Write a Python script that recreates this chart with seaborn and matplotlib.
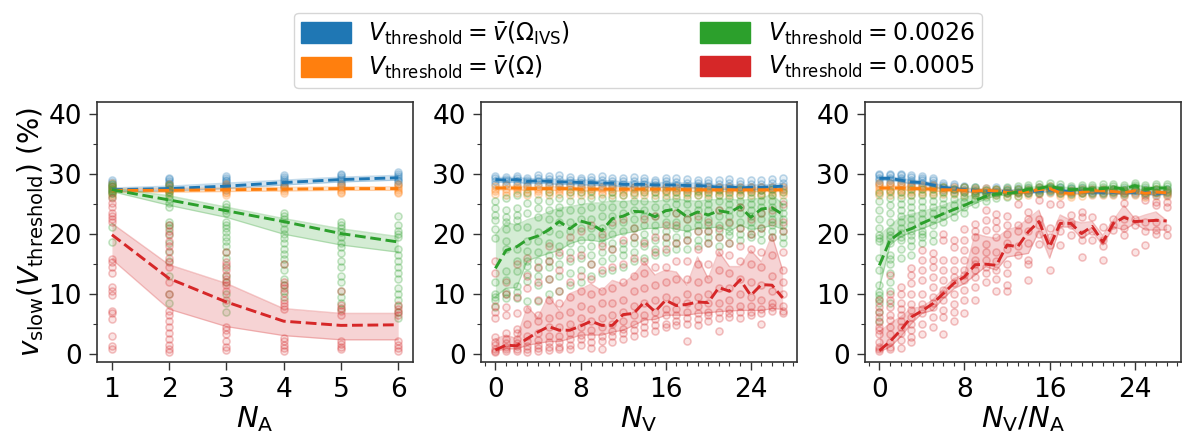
import numpy as np
import pandas as pd
import matplotlib
matplotlib.use("Agg")
import matplotlib.pyplot as plt
from matplotlib.colors import to_rgba
from matplotlib.patches import Patch
from matplotlib.ticker import MultipleLocator
import seaborn as sns

# ---------------------------------------------------------------- data
COLORS = {"ivs": "#1f77b4", "omega": "#ff7f0e", "c26": "#2ca02c", "c05": "#d62728"}
SERIES = ["ivs", "omega", "c26", "c05"]
LABELS = [
    r"$V_{\mathrm{threshold}} = \bar{v}(\Omega_{\mathrm{IVS}})$",
    r"$V_{\mathrm{threshold}} = \bar{v}(\Omega)$",
    r"$V_{\mathrm{threshold}} = 0.0026$",
    r"$V_{\mathrm{threshold}} = 0.0005$",
]

# ---- panel A: number of agents
na_x = [1, 2, 3, 4, 5, 6]
na_ivs_med = [27.4, 27.6, 28.0, 28.6, 29.1, 29.4]
na_ivs_lo = [27.1, 27.2, 27.6, 28.2, 28.7, 29.0]
na_ivs_hi = [27.7, 28.0, 28.5, 29.0, 29.5, 29.8]
na_omega_med = [27.3, 27.3, 27.4, 27.5, 27.6, 27.6]
na_omega_lo = [27.0, 27.0, 27.1, 27.2, 27.3, 27.3]
na_omega_hi = [27.6, 27.6, 27.7, 27.8, 27.9, 27.9]
na_c26_med = [27.4, 25.7, 23.9, 22.1, 20.1, 18.7]
na_c26_lo = [27.1, 24.8, 22.8, 20.0, 18.2, 17.0]
na_c26_hi = [27.7, 26.4, 24.5, 22.6, 20.9, 19.6]
na_c05_med = [19.9, 12.6, 8.7, 5.5, 4.8, 4.9]
na_c05_lo = [15.8, 7.5, 4.6, 3.1, 2.4, 2.4]
na_c05_hi = [21.8, 14.9, 11.8, 7.6, 6.8, 6.8]

na_ivs_pts = [
    [26.8, 27.2, 27.5, 27.8, 28.1, 28.4, 28.7, 29.0],
    [27.2, 27.6, 28.0, 28.3, 28.6, 28.9, 29.2, 29.4],
    [27.4, 27.8, 28.2, 28.5, 28.8, 29.1, 29.4, 29.7],
    [27.8, 28.2, 28.6, 28.9, 29.2, 29.5, 29.8],
    [28.2, 28.6, 28.9, 29.2, 29.5, 29.8, 30.1],
    [28.4, 28.8, 29.1, 29.4, 29.7, 30.0, 30.3],
]
na_omega_pts = [
    [26.6, 26.9, 27.2, 27.5, 27.8, 28.1, 28.5],
    [26.7, 27.0, 27.3, 27.6, 27.9, 28.3],
    [26.5, 26.8, 27.1, 27.4, 27.7, 28.0, 28.3],
    [26.9, 27.2, 27.5, 27.8, 28.1],
    [26.8, 27.1, 27.4, 27.7, 28.0, 28.4],
    [26.8, 27.1, 27.4, 27.7, 28.0, 28.4],
]
na_c26_pts = [
    [18.7, 21.2, 26.2, 26.8, 27.2, 27.6, 28.0, 28.3],
    [8.5, 10.0, 13.0, 15.5, 17.0, 18.5, 20.0, 21.0, 21.6, 22.0, 24.5, 25.2, 25.8, 26.4, 27.0, 27.6, 28.2],
    [7.0, 8.5, 10.0, 12.0, 13.0, 14.5, 16.0, 17.0, 18.0, 18.8, 19.5, 20.3, 21.0, 21.5, 22.0, 23.5, 24.0, 24.5, 25.0],
    [9.5, 10.5, 11.5, 12.5, 14.0, 15.0, 15.8, 16.7, 17.5, 18.5, 19.3, 20.0, 20.8, 21.8, 22.5, 23.0, 23.5],
    [7.5, 8.5, 9.5, 10.5, 12.0, 13.0, 14.5, 15.5, 16.8, 17.8, 18.5, 19.5, 20.3, 21.0, 21.5, 22.0],
    [6.0, 7.0, 8.0, 9.0, 10.0, 11.0, 12.5, 13.5, 14.5, 15.5, 16.5, 17.5, 19.5, 20.0, 20.5, 21.5, 23.0],
]
na_c05_pts = [
    [0.8, 1.3, 3.0, 5.8, 6.8, 7.2, 9.8, 10.5, 11.2, 13.5, 14.5, 15.3, 15.8, 22.0, 22.5, 23.0, 23.5, 24.5, 25.2, 26.0],
    [0.4, 0.8, 1.5, 2.5, 3.5, 4.5, 5.5, 6.5, 7.2, 10.0, 12.0, 14.5, 15.3, 16.0, 17.2, 18.0, 18.8, 19.8, 20.5, 21.6],
    [0.7, 1.2, 2.2, 3.3, 4.0, 4.5, 9.0, 10.5, 11.5, 12.0, 12.5, 13.2, 14.0, 14.8, 15.3, 17.0],
    [0.5, 1.0, 1.6, 2.2, 2.7, 7.5, 8.0, 8.5, 9.0, 10.2, 11.0, 11.5, 12.0, 15.0],
    [0.8, 1.2, 1.7, 2.2, 6.6, 7.2, 7.7, 8.2, 10.5],
    [0.6, 1.0, 1.6, 2.2, 6.5, 7.0, 7.6, 8.2],
]

# ---- panel B: number of vehicles
nv_x = list(range(28))
nv_ivs_med = [29.1, 29.0, 29.1, 28.8, 28.9, 28.8, 28.7, 28.7, 28.6, 28.6, 28.5, 28.5, 28.3, 28.3,
              28.3, 28.2, 28.2, 28.2, 28.1, 28.1, 28.0, 27.8, 27.9, 27.7, 27.8, 27.8, 27.9, 28.0]
nv_ivs_lo = [28.7, 28.6, 28.7, 28.4, 28.5, 28.4, 28.3, 28.3, 28.2, 28.2, 28.1, 28.1, 27.9, 27.9,
             27.9, 27.8, 27.8, 27.8, 27.7, 27.7, 27.6, 27.4, 27.5, 27.3, 27.4, 27.4, 27.5, 27.6]
nv_ivs_hi = [29.5, 29.4, 29.5, 29.2, 29.3, 29.2, 29.1, 29.1, 29.0, 29.0, 28.9, 28.9, 28.7, 28.7,
             28.7, 28.6, 28.6, 28.6, 28.5, 28.5, 28.4, 28.2, 28.3, 28.1, 28.2, 28.2, 28.3, 28.4]
nv_omega_med = [27.7, 27.7, 27.7, 27.6, 27.6, 27.6, 27.6, 27.6, 27.5, 27.5, 27.5, 27.5, 27.5, 27.5,
                27.5, 27.5, 27.5, 27.5, 27.4, 27.4, 27.4, 27.4, 27.4, 27.4, 27.4, 27.4, 27.4, 27.4]
nv_omega_lo = [27.4, 27.4, 27.4, 27.3, 27.3, 27.3, 27.3, 27.3, 27.2, 27.2, 27.2, 27.2, 27.2, 27.2,
               27.2, 27.2, 27.2, 27.2, 27.1, 27.1, 27.1, 27.1, 27.1, 27.1, 27.1, 27.1, 27.1, 27.1]
nv_omega_hi = [28.0, 28.0, 28.0, 27.9, 27.9, 27.9, 27.9, 27.9, 27.8, 27.8, 27.8, 27.8, 27.8, 27.8,
               27.8, 27.8, 27.8, 27.8, 27.7, 27.7, 27.7, 27.7, 27.7, 27.7, 27.7, 27.7, 27.7, 27.7]
nv_c26_med = [14.3, 17.3, 17.9, 19.1, 19.7, 20.7, 22.1, 20.9, 22.2, 21.7, 20.6, 22.6, 23.0, 23.8,
              23.7, 22.9, 23.9, 24.2, 22.9, 23.7, 23.2, 23.9, 23.6, 24.6, 22.8, 24.2, 24.4, 23.3]
nv_c26_lo = [9.6, 11.0, 11.1, 15.6, 16.2, 16.8, 17.3, 18.4, 19.0, 19.0, 18.7, 19.6, 20.1, 20.4,
             20.9, 21.0, 21.2, 20.8, 20.5, 21.0, 21.0, 21.2, 20.5, 21.5, 20.8, 21.0, 21.5, 20.8]
nv_c26_hi = [19.8, 22.0, 21.5, 22.4, 22.9, 23.7, 24.3, 24.6, 24.9, 25.2, 25.2, 25.6, 25.4, 25.6,
             25.5, 25.4, 25.7, 25.9, 25.6, 25.5, 25.7, 25.8, 25.9, 25.6, 25.8, 26.0, 26.6, 25.0]
nv_c05_med = [0.7, 1.5, 1.4, 2.6, 3.7, 4.6, 4.0, 4.0, 4.7, 5.5, 4.8, 4.8, 6.6, 6.8,
              8.7, 7.1, 9.0, 8.1, 8.3, 8.7, 8.6, 11.1, 10.5, 12.4, 9.8, 11.6, 11.5, 9.4]
nv_c05_lo = [0.5, 0.9, 0.9, 1.5, 1.8, 2.1, 2.1, 2.6, 3.2, 3.2, 3.2, 3.7, 4.0, 4.8,
             5.7, 5.8, 6.5, 6.5, 6.5, 6.8, 6.9, 7.1, 7.2, 7.3, 7.3, 7.3, 7.6, 7.5]
nv_c05_hi = [2.5, 3.2, 2.6, 7.9, 6.1, 9.7, 7.3, 10.1, 10.8, 11.7, 10.6, 12.3, 11.7, 13.2,
             15.4, 13.2, 14.0, 13.7, 11.5, 16.2, 12.6, 17.1, 14.6, 14.6, 17.3, 15.4, 19.8, 14.0]

nv_ivs_pts = [
    [28.4, 28.9, 29.3, 29.7], [28.3, 28.8, 29.2, 29.5], [28.4, 28.9, 29.3, 29.7], [28.2, 28.7, 29.0, 29.4],
    [28.3, 28.9, 29.4, 29.8], [28.2, 28.7, 29.2, 29.7], [28.1, 28.6, 29.2, 29.9], [28.2, 28.6, 29.1, 29.5],
    [28.0, 28.5, 29.0, 29.4], [28.1, 28.6, 29.1, 29.6], [28.0, 28.5, 29.1, 29.7], [27.9, 28.4, 28.9, 29.4],
    [27.8, 28.3, 28.8, 29.3], [27.9, 28.4, 28.9, 29.5], [27.8, 28.3, 28.8, 29.3], [27.7, 28.2, 28.7, 29.1],
    [27.8, 28.3, 28.8, 29.3], [27.7, 28.2, 28.7, 29.3], [27.6, 28.1, 28.6, 29.2], [27.7, 28.1, 28.6, 29.0],
    [27.6, 28.0, 28.5, 29.1], [27.5, 27.9, 28.4, 29.0], [27.5, 28.0, 28.5, 29.2], [27.3, 27.8, 28.3, 28.8],
    [27.5, 27.9, 28.4, 29.1], [27.4, 27.9, 28.4, 29.0], [27.5, 27.9, 28.5, 29.2], [27.5, 28.0, 28.6, 29.3],
]
nv_omega_pts = [
    [26.7, 27.2, 27.6, 28.1], [26.6, 27.1, 27.6, 28.2], [26.8, 27.3, 27.7, 28.1], [26.6, 27.1, 27.6, 28.0],
    [26.7, 27.2, 27.6, 28.1], [26.5, 27.0, 27.6, 28.2], [26.7, 27.2, 27.6, 28.0], [26.6, 27.1, 27.5, 28.0],
    [26.6, 27.1, 27.5, 27.9], [26.5, 27.0, 27.5, 28.0], [26.7, 27.1, 27.5, 27.9], [26.6, 27.0, 27.5, 28.0],
    [26.5, 27.0, 27.4, 27.9], [26.6, 27.1, 27.5, 27.9], [26.5, 27.0, 27.4, 27.8], [26.6, 27.0, 27.5, 27.9],
    [26.5, 27.0, 27.4, 27.9], [26.6, 27.0, 27.4, 27.8], [26.5, 26.9, 27.4, 27.8], [26.6, 27.0, 27.4, 27.9],
    [26.5, 26.9, 27.3, 27.8], [26.6, 27.0, 27.4, 27.8], [26.5, 26.9, 27.3, 27.8], [26.5, 27.0, 27.4, 27.8],
    [26.6, 27.0, 27.4, 27.9], [26.5, 26.9, 27.3, 27.8], [26.6, 27.0, 27.4, 27.8], [26.5, 27.0, 27.4, 27.9],
]
nv_c26_pts = [
    [7.9, 9.0, 9.6, 10.0, 12.0, 19.4, 20.9, 22.3, 23.2, 24.3, 25.5],
    [9.4, 10.0, 10.3, 12.3, 13.9, 17.5, 18.9, 20.9, 22.1, 22.9, 24.0, 26.0],
    [9.4, 10.3, 11.4, 13.9, 15.5, 17.5, 21.2, 22.3, 23.2, 24.3, 26.5],
    [8.9, 12.2, 13.3, 14.7, 15.5, 17.2, 18.9, 21.2, 23.5, 25.2, 26.8],
    [8.9, 11.6, 13.0, 14.4, 15.5, 17.0, 18.9, 20.4, 22.9, 24.3, 25.7],
    [10.0, 12.5, 14.5, 15.5, 16.5, 18.5, 20.5, 22.5, 24.0, 25.5, 27.0],
    [10.5, 13.0, 15.0, 16.5, 18.0, 20.0, 22.0, 23.5, 24.5, 26.0],
    [11.5, 13.5, 15.5, 17.0, 18.5, 20.5, 22.0, 24.0, 25.5, 27.0],
    [12.0, 14.0, 16.0, 17.5, 19.0, 21.0, 22.5, 24.0, 25.5, 27.0],
    [13.0, 15.0, 16.5, 18.0, 19.5, 21.0, 22.5, 24.5, 26.0, 27.2],
    [13.5, 15.5, 17.0, 18.5, 19.5, 21.0, 23.0, 24.5, 26.0],
    [14.0, 16.0, 17.5, 18.5, 20.0, 21.5, 23.0, 24.5, 26.0, 27.0],
    [14.5, 16.5, 17.5, 18.5, 20.5, 22.0, 23.5, 25.0, 26.5],
    [15.5, 17.0, 18.5, 19.5, 21.0, 22.5, 24.0, 25.5, 26.8],
    [16.0, 18.0, 18.8, 20.0, 21.5, 23.0, 24.0, 25.5, 27.0],
    [16.5, 17.5, 19.0, 20.5, 21.5, 23.0, 24.5, 26.0, 27.0],
    [17.0, 18.5, 19.5, 20.5, 22.0, 23.5, 24.5, 26.0, 27.2],
    [17.5, 18.5, 19.5, 21.0, 22.0, 23.5, 25.0, 26.0, 27.0],
    [17.5, 19.0, 20.0, 21.0, 22.5, 23.5, 25.0, 26.0, 27.0],
    [18.0, 19.0, 20.5, 21.5, 22.5, 24.0, 25.0, 26.5, 27.2],
    [18.5, 19.5, 20.5, 21.5, 22.5, 24.0, 25.0, 26.0, 27.0],
    [18.0, 19.5, 20.5, 21.5, 23.0, 24.0, 25.5, 26.5, 27.3],
    [18.5, 19.8, 20.5, 21.8, 23.0, 24.0, 25.0, 26.0, 27.0],
    [19.0, 20.0, 21.0, 22.0, 23.5, 24.5, 25.5, 26.5, 27.5],
    [19.5, 20.0, 21.0, 22.0, 23.0, 24.0, 25.0, 26.0, 27.0],
    [19.0, 20.2, 21.0, 22.5, 23.5, 24.5, 25.5, 26.5, 27.3],
    [19.5, 20.5, 21.5, 22.5, 23.5, 24.5, 25.5, 26.5, 27.5],
    [18.5, 19.5, 20.5, 21.5, 22.5, 23.5, 24.5, 25.5, 27.0],
]
nv_c05_pts = [
    [0.4, 0.6, 0.9, 1.5, 2.0, 2.8, 6.0, 7.0, 8.0, 13.5, 15.5],
    [0.6, 0.9, 1.2, 1.9, 2.5, 3.5, 6.5, 7.8, 10.0, 12.0],
    [0.6, 0.9, 1.3, 1.8, 2.6, 3.5, 4.2, 6.8, 9.5, 15.0],
    [0.4, 0.9, 1.4, 2.2, 3.0, 5.0, 7.5, 11.0, 13.0, 16.0],
    [0.6, 1.0, 1.5, 2.3, 3.5, 5.5, 6.5, 9.0, 12.0, 14.5],
    [0.7, 1.2, 2.0, 3.0, 4.5, 6.0, 9.0, 12.5, 15.5, 18.0],
    [0.8, 1.2, 2.0, 3.0, 4.5, 6.5, 8.5, 10.5, 14.0, 17.0],
    [0.9, 1.5, 2.5, 3.5, 5.0, 7.0, 9.5, 12.0, 16.0, 19.5],
    [1.5, 2.5, 3.2, 4.5, 6.0, 8.0, 10.5, 13.0, 16.5, 20.5],
    [1.0, 2.0, 3.0, 4.0, 5.5, 7.5, 10.0, 12.5, 15.0, 21.5],
    [0.8, 2.2, 3.0, 4.5, 6.0, 8.5, 10.5, 14.0, 18.0, 20.0],
    [2.0, 3.0, 3.8, 5.0, 6.5, 8.5, 11.0, 14.5, 17.5, 22.0],
    [2.5, 3.5, 4.2, 5.5, 7.0, 9.0, 12.0, 15.0, 19.0, 22.5],
    [3.0, 4.0, 5.0, 6.5, 8.0, 10.5, 13.0, 16.0, 19.5, 21.0],
    [3.5, 4.5, 5.5, 6.5, 8.5, 11.0, 13.5, 15.5, 18.5, 22.5],
    [3.8, 4.8, 5.8, 7.0, 9.0, 11.5, 14.5, 17.0, 19.5, 23.0],
    [4.5, 5.0, 6.5, 7.5, 9.5, 12.0, 14.5, 17.5, 19.5, 21.5],
    [4.8, 5.5, 6.5, 7.5, 9.0, 12.5, 15.5, 18.5, 21.5, 23.5],
    [2.2, 5.0, 6.0, 7.0, 8.5, 10.0, 12.5, 15.5, 19.0, 22.5],
    [4.8, 5.8, 6.8, 8.0, 9.5, 12.0, 15.0, 17.5, 20.5, 23.0],
    [5.5, 6.5, 7.0, 8.5, 10.0, 12.5, 15.0, 18.5, 20.5, 22.0],
    [3.8, 6.0, 7.0, 8.5, 11.0, 14.0, 17.0, 19.5, 21.0, 24.0],
    [6.2, 6.8, 7.5, 9.0, 11.0, 13.5, 16.5, 18.5, 22.0],
    [6.0, 7.0, 8.0, 10.0, 12.5, 15.5, 18.0, 21.0, 24.5],
    [6.5, 7.0, 8.0, 9.5, 12.0, 15.0, 17.5, 20.0, 22.5],
    [5.0, 6.8, 7.5, 9.0, 11.5, 14.5, 17.0, 21.0, 23.5],
    [7.2, 7.8, 8.5, 10.5, 13.0, 16.5, 19.5, 22.0, 24.0],
    [6.8, 7.2, 8.0, 10.0, 12.0, 14.0, 17.0, 20.5, 22.0, 25.0],
]

# ---- panel C: vehicles per agent
nr_x = list(range(28))
nr_ivs_med = [29.3, 29.3, 29.0, 28.7, 28.6, 28.2, 27.8, 27.6, 27.4, 27.3, 27.1, 27.2, 27.1, 27.1,
              27.1, 27.2, 27.4, 27.2, 27.1, 27.1, 27.0, 27.0, 27.0, 26.9, 27.0, 26.9, 26.8, 26.9]
nr_ivs_lo = [29.0, 29.0, 28.7, 28.4, 28.3, 27.9, 27.5, 27.3, 27.1, 27.0, 26.8, 26.9, 26.8, 26.8,
             26.8, 26.9, 27.1, 26.9, 26.8, 26.8, 26.7, 26.7, 26.7, 26.6, 26.7, 26.6, 26.5, 26.6]
nr_ivs_hi = [29.6, 29.6, 29.3, 29.0, 28.9, 28.5, 28.1, 27.9, 27.7, 27.6, 27.4, 27.5, 27.4, 27.4,
             27.4, 27.5, 27.7, 27.5, 27.4, 27.4, 27.3, 27.3, 27.3, 27.2, 27.3, 27.2, 27.1, 27.2]
nr_omega_med = [27.7, 27.7, 27.7, 27.6, 27.6, 27.5, 27.4, 27.4, 27.3, 27.2, 27.3, 27.2, 27.0, 27.0,
                27.1, 27.4, 27.6, 26.9, 26.8, 27.0, 27.2, 27.2, 27.1, 26.9, 27.2, 26.8, 27.0, 26.9]
nr_omega_lo = [27.4, 27.4, 27.4, 27.3, 27.3, 27.2, 27.1, 27.1, 27.0, 26.9, 27.0, 26.9, 26.7, 26.7,
               26.8, 27.1, 27.3, 26.6, 26.5, 26.7, 26.9, 26.9, 26.8, 26.6, 26.9, 26.5, 26.7, 26.6]
nr_omega_hi = [28.0, 28.0, 28.0, 27.9, 27.9, 27.8, 27.7, 27.7, 27.6, 27.5, 27.6, 27.5, 27.3, 27.3,
               27.4, 27.7, 27.9, 27.2, 27.1, 27.3, 27.5, 27.5, 27.4, 27.2, 27.5, 27.1, 27.3, 27.2]
nr_c26_med = [14.8, 19.0, 20.3, 20.9, 21.8, 22.6, 23.4, 24.1, 24.8, 25.6, 26.3, 26.7, 26.8, 27.0,
              27.5, 27.6, 28.0, 27.6, 27.4, 27.5, 27.5, 27.6, 27.8, 27.5, 28.1, 27.5, 27.7, 27.7]
nr_c26_lo = [11.0, 18.2, 19.6, 20.3, 20.9, 21.6, 22.3, 23.3, 24.3, 25.1, 25.9, 26.4, 26.5, 26.7,
             27.2, 27.3, 27.6, 27.3, 27.1, 27.2, 27.2, 27.3, 27.5, 27.2, 27.7, 27.2, 27.4, 27.4]
nr_c26_hi = [19.8, 21.3, 22.9, 23.3, 23.7, 24.3, 24.8, 25.5, 26.1, 26.6, 27.1, 27.1, 27.2, 27.3,
             27.8, 27.9, 28.3, 27.9, 27.7, 27.8, 27.8, 27.9, 28.1, 27.8, 28.4, 27.8, 28.0, 28.0]
nr_c05_med = [0.6, 2.1, 4.0, 6.2, 7.2, 8.4, 10.1, 11.8, 12.9, 14.9, 15.0, 14.8, 18.2, 17.9,
              20.4, 22.1, 17.9, 21.8, 21.8, 20.1, 21.3, 18.7, 21.8, 22.8, 22.1, 22.2, 22.3, 22.2]
nr_c05_lo = [0.4, 1.2, 2.9, 5.1, 6.8, 7.3, 9.3, 10.9, 11.8, 13.2, 14.6, 14.0, 16.2, 16.5,
             16.8, 20.5, 16.0, 21.2, 21.2, 19.3, 20.4, 18.2, 21.2, 20.7, 21.8, 20.7, 20.7, 20.7]
nr_c05_hi = [3.7, 5.1, 6.2, 7.6, 7.9, 9.0, 10.9, 12.6, 13.2, 20.1, 19.6, 19.3, 20.7, 21.2,
             22.6, 24.0, 19.0, 23.2, 22.3, 21.9, 22.1, 19.8, 22.3, 24.8, 22.6, 23.2, 23.7, 22.3]

nr_ivs_pts = [
    [28.6, 29.0, 29.4, 29.8, 30.1], [28.6, 29.0, 29.4, 29.8, 30.1], [28.5, 29.0, 29.4, 29.8, 30.0],
    [28.2, 28.7, 29.1, 29.5, 29.8], [28.0, 28.5, 29.0, 29.4, 29.7], [27.8, 28.2, 28.6, 29.0, 29.3],
    [27.4, 27.8, 28.2, 28.6], [27.3, 27.6, 28.0, 28.4], [27.1, 27.4, 27.8, 28.1], [26.9, 27.2, 27.5, 27.8],
    [26.8, 27.1, 27.4, 27.7], [26.9, 27.2, 27.5, 27.8], [26.8, 27.1, 27.4, 27.7], [26.8, 27.1, 27.4, 27.7],
    [26.8, 27.1, 27.4, 27.7], [26.9, 27.2, 27.5, 27.8], [27.0, 27.3, 27.6, 27.9], [26.9, 27.2, 27.5, 27.8],
    [26.8, 27.1, 27.4, 27.7], [26.8, 27.1, 27.4, 27.7], [26.7, 27.0, 27.3, 27.6], [26.7, 27.0, 27.3, 27.6],
    [26.7, 27.0, 27.3, 27.6], [26.6, 26.9, 27.2, 27.5], [26.7, 27.0, 27.3, 27.6], [26.6, 26.9, 27.2, 27.5],
    [26.5, 26.8, 27.1, 27.4], [26.6, 26.9, 27.2, 27.5],
]
nr_omega_pts = [
    [26.6, 27.0, 27.4, 27.8, 28.2, 28.5], [26.6, 27.0, 27.4, 27.8, 28.2, 28.5],
    [26.6, 27.0, 27.4, 27.8, 28.2, 28.5], [26.6, 27.0, 27.4, 27.8, 28.1, 28.4],
    [26.7, 27.1, 27.5, 27.9, 28.2], [26.7, 27.1, 27.5, 27.9, 28.2], [26.7, 27.1, 27.5, 27.9],
    [26.7, 27.1, 27.5, 27.9], [26.6, 27.0, 27.4, 27.8], [26.5, 26.9, 27.3, 27.7], [26.6, 27.0, 27.4, 27.7],
    [26.5, 26.9, 27.3, 27.6], [26.4, 26.8, 27.1, 27.5], [26.4, 26.8, 27.1, 27.5], [26.5, 26.9, 27.2, 27.6],
    [26.7, 27.1, 27.5, 27.8], [26.9, 27.3, 27.6, 28.0], [26.3, 26.7, 27.0, 27.4], [26.2, 26.6, 27.0, 27.3],
    [26.4, 26.8, 27.1, 27.5], [26.6, 26.9, 27.3, 27.6], [26.6, 26.9, 27.3, 27.6], [26.5, 26.9, 27.2, 27.5],
    [26.3, 26.7, 27.0, 27.4], [26.6, 26.9, 27.3, 27.6], [26.2, 26.6, 27.0, 27.3], [26.4, 26.8, 27.1, 27.5],
    [26.3, 26.7, 27.0, 27.4],
]
nr_c26_pts = [
    [5.5, 7.0, 8.5, 9.2, 9.8, 10.4, 11.5, 14.0, 16.0, 18.8, 19.3, 19.8, 21.0, 22.5, 24.0, 25.5, 26.8],
    [8.5, 10.5, 12.0, 13.5, 15.0, 15.8, 16.5, 18.5, 19.3, 19.8, 20.5, 22.0, 23.5, 24.8, 26.0, 27.2],
    [16.0, 17.5, 19.0, 19.5, 20.2, 21.0, 22.0, 23.0, 24.0, 25.0, 26.0, 27.0],
    [16.5, 18.0, 19.0, 19.8, 20.5, 21.5, 22.5, 23.5, 24.5, 25.5, 26.5, 27.5],
    [18.5, 19.5, 20.0, 20.5, 21.5, 22.5, 23.5, 24.5, 25.5, 26.5, 27.5],
    [18.8, 20.0, 21.5, 22.5, 23.5, 24.5, 25.5, 26.5, 27.5],
    [22.0, 23.0, 24.0, 25.0, 26.0, 27.0, 27.8],
    [22.8, 23.8, 24.8, 25.8, 26.8, 27.6],
    [23.5, 24.5, 25.3, 26.2, 27.0, 27.8],
    [25.0, 25.8, 26.5, 27.2, 27.8],
    [25.5, 26.2, 26.8, 27.4],
    [26.0, 26.6, 27.1, 27.6], [26.2, 26.8, 27.3, 27.8], [26.4, 27.0, 27.5, 28.0], [26.8, 27.3, 27.8, 28.2],
    [26.9, 27.4, 27.9, 28.3], [27.2, 27.7, 28.1, 28.5], [26.9, 27.4, 27.9, 28.3], [26.7, 27.2, 27.7, 28.1],
    [26.8, 27.3, 27.8, 28.2], [26.8, 27.3, 27.8, 28.2], [26.9, 27.4, 27.9, 28.3], [27.1, 27.6, 28.0, 28.4],
    [26.8, 27.3, 27.8, 28.2], [27.3, 27.8, 28.2, 28.6], [26.8, 27.3, 27.8, 28.2], [27.0, 27.5, 28.0, 28.3],
    [27.0, 27.5, 28.0, 28.3],
]
nr_c05_pts = [
    [0.5, 0.8, 1.2, 2.1, 3.4, 4.0, 4.6, 5.4, 6.2, 7.0, 7.9, 9.0],
    [0.8, 1.2, 2.1, 3.4, 4.6, 5.7, 6.5, 7.9, 9.0, 10.1, 13.2],
    [1.0, 2.3, 3.5, 4.5, 5.5, 6.5, 7.5, 8.5, 10.1, 11.2],
    [2.1, 2.9, 4.0, 5.1, 6.2, 7.3, 8.4, 10.1, 11.8, 13.2, 14.3],
    [3.4, 5.1, 6.8, 7.6, 8.4, 10.1, 12.3, 14.0, 15.7, 17.3],
    [4.6, 6.2, 7.9, 8.5, 9.6, 11.2, 12.9, 14.6, 15.7, 16.8],
    [3.4, 6.2, 7.3, 9.0, 10.1, 10.7, 12.3, 14.0, 15.7, 19.0, 20.1],
    [5.5, 7.0, 8.4, 10.1, 11.8, 12.9, 14.0, 15.7, 17.9, 19.1],
    [6.8, 9.0, 10.7, 12.3, 13.2, 14.0, 15.7, 17.3, 19.0, 20.9],
    [9.0, 11.2, 12.9, 14.0, 15.0, 15.7, 17.3, 19.6, 20.5, 21.7],
    [12.0, 13.5, 14.5, 15.7, 17.0, 18.4, 20.7, 22.3, 24.0],
    [10.5, 12.5, 14.0, 15.5, 17.0, 19.5, 21.0, 22.2, 23.4],
    [10.5, 11.5, 13.5, 15.0, 17.5, 18.5, 20.0, 21.5, 23.0],
    [16.5, 18.0, 20.5, 21.5, 25.0],
    [12.3, 15.1, 15.7, 18.5, 20.5, 22.6, 23.7],
    [18.4, 20.0, 21.5, 22.5, 25.7],
    [14.0, 18.2, 19.5, 21.0, 25.0],
    [18.2, 20.5, 21.8, 25.1],
    [19.8, 21.5, 22.0, 23.2],
    [16.2, 19.0, 20.0, 22.9, 23.7],
    [19.0, 20.5, 22.8],
    [15.7, 18.0, 19.0, 21.2],
    [20.7, 21.5, 22.5],
    [19.8, 21.0, 22.5, 25.2],
    [17.1, 21.5, 22.5],
    [18.2, 20.5, 22.0, 25.7],
    [20.1, 20.7, 22.0, 24.8, 25.4],
    [19.8, 21.0, 24.5, 25.4],
]

NA_TICKS = [1, 2, 3, 4, 5, 6]
NV_TICKS = [0, 8, 16, 24]
Y_TICKS = [0, 10, 20, 30, 40]


# ---------------------------------------------------------------- helpers
def long_points(xs, pts):
    rows = [(x, v) for x, col in zip(xs, pts) for v in col]
    return pd.DataFrame(rows, columns=["x", "y"])


def draw_panel(ax, xs, prefix):
    g = globals()
    # individual runs: faint rings
    for key in SERIES:
        c = COLORS[key]
        df = long_points(xs, g[f"{prefix}_{key}_pts"])
        sns.scatterplot(data=df, x="x", y="y", ax=ax, color=to_rgba(c, 0.12), s=26,
                        edgecolor=to_rgba(c, 0.28), linewidth=1.1, legend=False, zorder=1)
    # inter-quartile bands
    for key in SERIES:
        c = COLORS[key]
        lo, hi = g[f"{prefix}_{key}_lo"], g[f"{prefix}_{key}_hi"]
        ax.fill_between(xs, lo, hi, color=c, alpha=0.2, linewidth=0, zorder=2)
        ax.plot(xs, lo, color=c, alpha=0.25, lw=1.0, zorder=2)
        ax.plot(xs, hi, color=c, alpha=0.25, lw=1.0, zorder=2)
    # medians
    for key in SERIES:
        c = COLORS[key]
        line = pd.DataFrame({"x": xs, "y": g[f"{prefix}_{key}_med"]})
        sns.lineplot(data=line, x="x", y="y", ax=ax, color=c, lw=2.1,
                     linestyle="--", legend=False, zorder=3)


# ---------------------------------------------------------------- figure
sns.set_style("ticks")
plt.rcParams["font.family"] = ["DejaVu Sans"]
plt.rcParams["mathtext.fontset"] = "dejavusans"
plt.rcParams["text.color"] = "black"
plt.rcParams["axes.labelcolor"] = "black"

fig = plt.figure(figsize=(11.88, 4.45), dpi=100)
w, h, bot = 0.266, 0.584, 0.1865
axes = [fig.add_axes([l, bot, w, h]) for l in (0.0817, 0.4049, 0.7281)]

draw_panel(axes[0], na_x, "na")
draw_panel(axes[1], nv_x, "nv")
draw_panel(axes[2], nr_x, "nr")

xlabels = [r"$N_{\mathrm{A}}$", r"$N_{\mathrm{V}}$", r"$N_{\mathrm{V}}/N_{\mathrm{A}}$"]
for i, ax in enumerate(axes):
    ax.set_ylim(-1.3, 42)
    ax.set_yticks(Y_TICKS)
    ax.yaxis.set_minor_locator(MultipleLocator(5))
    if i == 0:
        ax.set_xlim(0.74, 6.26)
        ax.set_xticks(NA_TICKS)
    else:
        ax.set_xlim(-1.35, 28.35)
        ax.set_xticks(NV_TICKS)
        ax.xaxis.set_minor_locator(MultipleLocator(1))
    ax.set_xlabel(xlabels[i], fontsize=21, labelpad=1, color="black")
    ax.set_ylabel("")
    ax.tick_params(which="major", labelsize=19, length=6, width=1.0, pad=5,
                   color="#333333", labelcolor="black")
    ax.tick_params(which="minor", length=3, width=0.8, color="#333333")
    for sp in ax.spines.values():
        sp.set_visible(True)
        sp.set_color("#333333")
        sp.set_linewidth(1.2)

axes[0].set_ylabel(r"$v_{\mathrm{slow}}(V_{\mathrm{threshold}})$ (%)", fontsize=20,
                   labelpad=2, color="black")

handles = [Patch(facecolor=COLORS[k], edgecolor=COLORS[k]) for k in SERIES]
fig.legend(handles, LABELS, loc="upper center", bbox_to_anchor=(0.537, 0.998), ncol=2,
           fontsize=17, frameon=True, fancybox=True, edgecolor="#cccccc",
           columnspacing=5.5, handlelength=2.1, handleheight=0.95, handletextpad=0.75,
           borderpad=0.3, labelspacing=0.3)

fig.savefig("out.png", dpi=100)
